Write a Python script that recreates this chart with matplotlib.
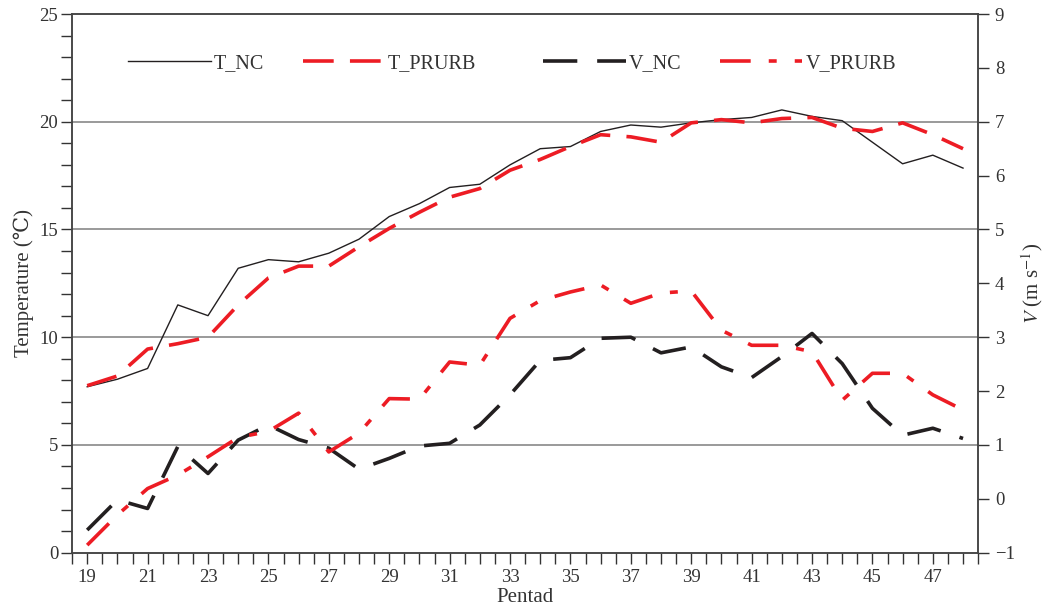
"""Pentad temperature and wind speed, NC vs PRURB runs."""

import matplotlib
matplotlib.use("Agg")
import matplotlib.pyplot as plt
import numpy as np
from matplotlib.ticker import MultipleLocator

pentad = list(range(19, 49))

t_nc = [7.7, 8.05, 8.55, 11.5, 11.0, 13.2, 13.6, 13.5, 13.9, 14.55,
        15.6, 16.2, 16.95, 17.1, 18.0, 18.75, 18.85, 19.55, 19.85, 19.75,
        19.95, 20.1, 20.2, 20.55, 20.25, 20.05, 19.05, 18.05, 18.45, 17.85]
t_prurb = [7.75, 8.2, 9.45, 9.7, 10.0, 11.5, 12.75, 13.3, 13.3, 14.2,
           15.05, 15.8, 16.5, 16.9, 17.75, 18.25, 18.85, 19.4, 19.3, 19.05,
           19.95, 20.1, 19.95, 20.15, 20.2, 19.7, 19.55, 19.95, 19.4, 18.75]
v_nc = [-0.58, -0.02, -0.18, 0.97, 0.47, 1.09, 1.37, 1.1, 0.94, 0.55,
        0.75, 0.98, 1.03, 1.37, 1.93, 2.57, 2.62, 2.98, 3.0, 2.71,
        2.82, 2.45, 2.25, 2.64, 3.07, 2.51, 1.68, 1.18, 1.31, 1.12]
v_prurb = [-0.86, -0.3, 0.19, 0.44, 0.78, 1.14, 1.25, 1.59, 0.87, 1.22,
           1.86, 1.85, 2.54, 2.48, 3.35, 3.68, 3.84, 3.97, 3.63, 3.82,
           3.86, 3.13, 2.85, 2.85, 2.73, 1.83, 2.33, 2.33, 1.93, 1.65]

RED = "#ED1C24"
BLACK = "#231F20"
TEXT = "#333333"

plt.rcParams["font.family"] = ["Liberation Serif", "DejaVu Serif"]
plt.rcParams["mathtext.fontset"] = "stix"
plt.rcParams["font.size"] = 13

fig = plt.figure(figsize=(10.45, 6.11), dpi=100)
ax = fig.add_axes([0.069, 0.0955, 0.867, 0.8815])
ax2 = ax.twinx()

ax.set_xlim(18.5, 48.5)
ax.set_ylim(0, 25)
ax2.set_ylim(-1, 9)

for y in [5, 10, 15, 20]:
    ax.axhline(y, color="#7f7f7f", lw=1.1, zorder=1)

h1, = ax.plot(pentad, t_nc, color=BLACK, lw=1.0, label="T_NC", zorder=3)
h2, = ax.plot(pentad, t_prurb, color=RED, lw=2.6, label="T_PRURB", zorder=3)
h2.set_dashes([8.5, 4.5])
h3, = ax2.plot(pentad, v_nc, color=BLACK, lw=2.6, label="V_NC", zorder=3)
h3.set_dashes([9.5, 5.5])
h4, = ax2.plot(pentad, v_prurb, color=RED, lw=2.6, label="V_PRURB", zorder=3)
h4.set_dashes([8.5, 5, 2.2, 5])

ax.set_xticks(np.arange(19, 48, 2))
ax.xaxis.set_minor_locator(MultipleLocator(0.5))
ax.yaxis.set_major_locator(MultipleLocator(5))
ax.yaxis.set_minor_locator(MultipleLocator(1))
ax2.set_yticks(np.arange(-1, 10))
ax2.set_yticklabels([f"{v}".replace("-", "\u2212") for v in range(-1, 10)])

for a in (ax, ax2):
    a.tick_params(which="both", direction="out", length=8, width=1.0,
                  color=TEXT, labelcolor=TEXT, labelsize=13.5)
    for s in a.spines.values():
        s.set_color("#444444")
        s.set_linewidth(1.1)
ax.tick_params(axis="y", pad=2)
ax2.tick_params(axis="y", pad=4)

ax.set_xlabel("Pentad", color=TEXT, fontsize=15, labelpad=2)
ax.set_ylabel("Temperature (\u2103)", color=TEXT, fontsize=15, labelpad=4)
ax2.set_ylabel(r"$V$ (m s$^{-1}$)", color=TEXT, fontsize=15, labelpad=3)

leg_kw = dict(loc="upper left", ncol=2, frameon=False, handlelength=4.1,
              handletextpad=0.15, columnspacing=1.9, fontsize=14.5)
leg1 = ax.legend(handles=[h1, h2], bbox_to_anchor=(0.042, 0.96), **leg_kw)
ax.add_artist(leg1)
leg2 = ax.legend(handles=[h3, h4], bbox_to_anchor=(0.5, 0.96), **leg_kw)
for leg in (leg1, leg2):
    for t in leg.get_texts():
        t.set_color(TEXT)

fig.savefig("out.png", dpi=100)
